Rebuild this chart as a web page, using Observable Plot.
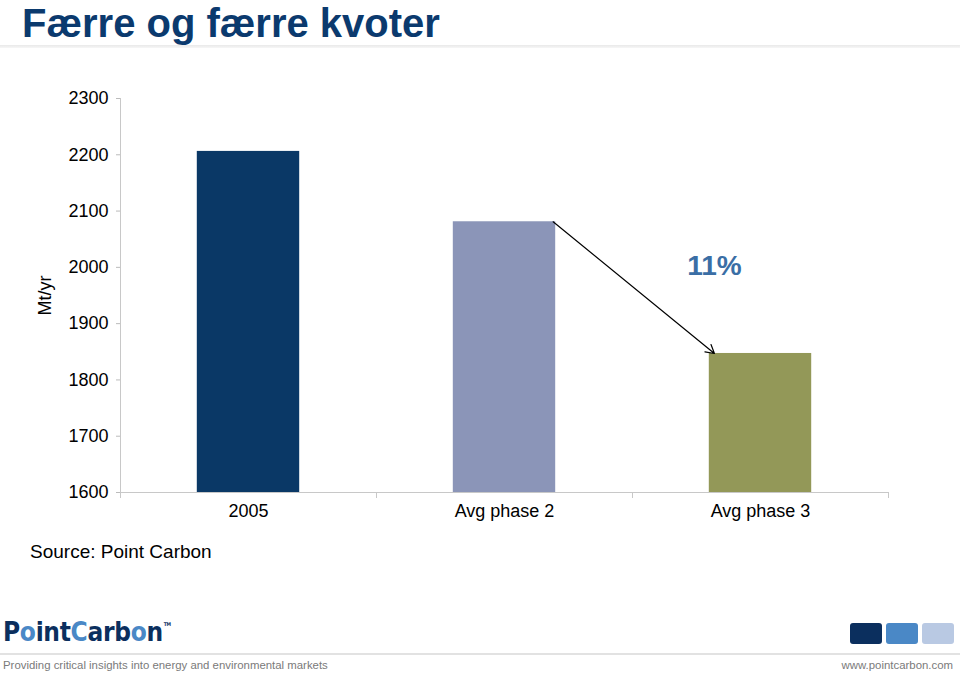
<!DOCTYPE html>
<html>
<head>
<meta charset="utf-8">
<script src="https://cdn.jsdelivr.net/npm/d3@7"></script>
<script src="https://cdn.jsdelivr.net/npm/@observablehq/plot@0.6"></script>
<style>
  html, body { margin: 0; padding: 0; background: #fff; }
  body { width: 960px; height: 675px; position: relative; overflow: hidden; font-family: "Liberation Sans", Arial, sans-serif; }
  .abs { position: absolute; white-space: nowrap; }
  #title { left: 22px; top: 0px; font-size: 40px; font-weight: bold; color: #0b3a6e; line-height: 46px; }
  #titleline { left: 0; top: 45px; width: 960px; height: 3px; background: linear-gradient(#e9e9e9, #f6f6f6); }
  #chart { position: absolute; left: 0; top: 60px; }
  #source { left: 30px; top: 541px; font-size: 19px; color: #000; }
  #logo { left: 3px; top: 617px; font-family: "DejaVu Sans Condensed", "DejaVu Sans", sans-serif; font-weight: bold; font-size: 26px; color: #0b2f5e; letter-spacing: -0.3px; }
  #logo .lb { color: #4a88c6; }
  #logo sup { font-size: 5px; vertical-align: 15px; margin-left: 1px; }
  #footline { left: 0; top: 653px; width: 960px; height: 2px; background: #e2e2e2; }
  #tagline { left: 3px; top: 659px; font-size: 11.4px; color: #7a7a7a; }
  #url { right: 7px; top: 659px; font-size: 11.4px; color: #7a7a7a; }
  .sq { position: absolute; top: 623px; width: 32px; height: 21px; border-radius: 3px; }
</style>
</head>
<body>
<div id="title" class="abs">Færre og færre kvoter</div>
<div id="titleline" class="abs"></div>
<div id="chart"></div>
<div id="source" class="abs">Source: Point Carbon</div>
<div id="logo" class="abs">P<span class="lb">o</span>int<span class="lb">C</span>arb<span class="lb">o</span>n<sup>TM</sup></div>
<div class="sq" style="left:850px;background:#0b2f5e"></div>
<div class="sq" style="left:886px;background:#4a88c6"></div>
<div class="sq" style="left:922px;background:#b9c9e3"></div>
<div id="footline" class="abs"></div>
<div id="tagline" class="abs">Providing critical insights into energy and environmental markets</div>
<div id="url" class="abs">www.pointcarbon.com</div>
<script>
// Data
const categories = ["2005", "Avg phase 2", "Avg phase 3"];
const values = [2206, 2081, 1847];
const barColors = ["#0a3866", "#8b95b8", "#939858"];
const yTicks = [1600, 1700, 1800, 1900, 2000, 2100, 2200, 2300];
const yDomain = [1600, 2300];
const changeLabel = "11%";
const unitLabel = "Mt/yr";

const data = categories.map((c, i) => ({ category: c, i, value: values[i] }));
const arrowData = [{ x1: 1.69, y1: values[1], x2: 2.32, y2: values[2] }];
const labelData = [{ x: 2.32, y: 2003, label: changeLabel }];

const chart = Plot.plot({
  width: 960,
  height: 480,
  marginLeft: 120,
  marginRight: 72,
  marginTop: 38,
  marginBottom: 48,
  style: { fontFamily: "'Liberation Sans', Arial, sans-serif", fontSize: "18px", color: "#000", background: "transparent", overflow: "visible" },
  x: { type: "linear", domain: [0, categories.length] },
  y: { domain: yDomain },
  color: { domain: categories, range: barColors },
  marks: [
    Plot.rect(data, { x1: d => d.i + 0.3, x2: d => d.i + 0.7, y1: () => yDomain[0], y2: "value", fill: "category" }),
    Plot.ruleX([0], { stroke: "#c8c8c8" }),
    Plot.ruleY([yDomain[0]], { stroke: "#c8c8c8" }),
    Plot.axisY({ ticks: yTicks, tickFormat: d => String(d), tickSize: 4, tickPadding: 8, stroke: "#bbbbbb", label: unitLabel, labelAnchor: "center", labelOffset: 82, labelArrow: "none", fontSize: 18 }),
    Plot.axisX({ ticks: [0.5, 1.5, 2.5], tickFormat: d => categories[Math.floor(d)], tickSize: 0, tickPadding: 12, label: null, fontSize: 18 }),
    Plot.axisX({ ticks: d3.range(categories.length + 1), tickFormat: () => "", tickSize: 6, stroke: "#c8c8c8", label: null }),
    Plot.arrow(arrowData, { x1: "x1", y1: "y1", x2: "x2", y2: "y2", stroke: "black", strokeWidth: 1.2, headLength: 12 }),
    Plot.text(labelData, { x: "x", y: "y", text: "label", fontSize: 28, fontWeight: "bold", fill: "#3a6ea5" })
  ]
});
document.getElementById("chart").appendChild(chart);
</script>
</body>
</html>
